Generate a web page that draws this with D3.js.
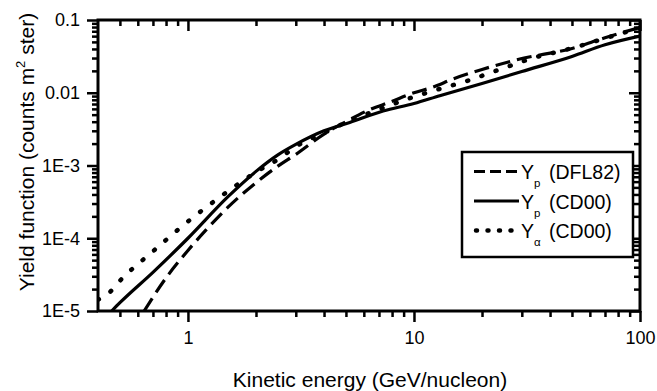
<!DOCTYPE html>
<html><head><meta charset="utf-8">
<script src="https://cdn.jsdelivr.net/npm/d3@7"></script>
<style>body{margin:0;background:#fff}svg{display:block}</style>
</head><body>
<svg id="c" width="657" height="391"></svg>
<script>
// ---- data ----
const energyDFL82 = [0.64, 0.8, 1, 1.2, 1.5, 2, 2.5, 3, 4, 5, 6.4, 7.8, 10, 12, 15, 20, 30, 50, 70, 100];
const yieldDFL82  = [1e-5, 2.85e-5, 6.8e-5, 1.29e-4, 2.65e-4, 5.8e-4, 9.8e-4, 1.42e-3, 2.7e-3, 4.0e-3, 5.9e-3, 7.4e-3, 0.0100, 0.0118, 0.0156, 0.0209, 0.0295, 0.0406, 0.057, 0.079];

const energyPCD00 = [0.46, 0.5, 0.7, 1, 1.5, 2, 2.5, 3, 4, 5.2, 7.3, 10, 13, 20, 30, 50, 70, 100];
const yieldPCD00  = [1e-5, 1.3e-5, 3.4e-5, 1.0e-4, 3.7e-4, 8.3e-4, 1.4e-3, 1.95e-3, 3.0e-3, 3.9e-3, 5.6e-3, 7.1e-3, 9.1e-3, 0.0134, 0.0196, 0.0315, 0.0456, 0.060];

const energyACD00 = [0.4, 0.45, 0.5, 0.7, 1, 1.5, 2, 2.5, 3, 4, 5, 7, 10, 12, 17, 24, 33, 50, 70, 100];
const yieldACD00  = [1.43e-5, 1.8e-5, 2.6e-5, 6.6e-5, 1.7e-4, 4.4e-4, 8.1e-4, 1.21e-3, 1.82e-3, 2.8e-3, 3.9e-3, 5.9e-3, 8.8e-3, 0.0105, 0.0144, 0.0209, 0.0295, 0.041, 0.056, 0.078];

const xMajorTicks = [1, 10, 100];
const xTickLabels = ["1", "10", "100"];
const xMinorTicks = [0.5,0.6,0.7,0.8,0.9, 2,3,4,5,6,7,8,9, 20,30,40,50,60,70,80,90];
const yMajorTicks = [0.1, 0.01, 1e-3, 1e-4, 1e-5];
const yTickLabels = ["0.1", "0.01", "1E-3", "1E-4", "1E-5"];
const yMinorTicks = [];
[1e-5, 1e-4, 1e-3, 1e-2].forEach(d => { for (let k = 2; k <= 9; k++) yMinorTicks.push(+(d * k).toPrecision(3)); });

const seriesNames = ["DFL82", "CD00", "CD00"];
const seriesSubs = ["p", "p", "\u03b1"];

// ---- layout ----
const L = 98, R = 640, T = 20, B = 311;
const FONT = "'Liberation Sans', Arial, Helvetica, sans-serif";
const svg = d3.select("#c");
const x = d3.scaleLog().domain([0.4, 100]).range([L, R]);
const y = d3.scaleLog().domain([1e-5, 0.1]).range([B, T]);

svg.append("defs").append("clipPath").attr("id", "clip")
  .append("rect").attr("x", L).attr("y", T).attr("width", R - L).attr("height", B - T);

function styleAxis(g) {
  g.select(".domain").remove();
  g.selectAll("line").attr("stroke", "#000").attr("stroke-width", 2.5);
  g.selectAll("text").attr("font-family", FONT).attr("font-size", 18).attr("fill", "#000");
}

// bottom axis
svg.append("g").attr("transform", `translate(0,${B})`)
  .call(d3.axisBottom(x).tickValues(xMajorTicks).tickFormat((d, i) => xTickLabels[i]).tickSize(11).tickSizeOuter(0).tickPadding(8))
  .call(styleAxis)
  .call(g => g.selectAll("text").attr("y", 33).attr("dy", 0));
svg.append("g").attr("transform", `translate(0,${B})`)
  .call(d3.axisBottom(x).tickValues(xMinorTicks).tickFormat("").tickSize(6).tickSizeOuter(0))
  .call(styleAxis);
// top ticks (pointing down)
svg.append("g").attr("transform", `translate(0,${T})`)
  .call(d3.axisBottom(x).tickValues(xMajorTicks).tickFormat("").tickSize(11).tickSizeOuter(0))
  .call(styleAxis);
svg.append("g").attr("transform", `translate(0,${T})`)
  .call(d3.axisBottom(x).tickValues(xMinorTicks).tickFormat("").tickSize(6).tickSizeOuter(0))
  .call(styleAxis);
// left axis
svg.append("g").attr("transform", `translate(${L},0)`)
  .call(d3.axisLeft(y).tickValues(yMajorTicks).tickFormat((d, i) => yTickLabels[i]).tickSize(11).tickSizeOuter(0).tickPadding(7))
  .call(styleAxis);
svg.append("g").attr("transform", `translate(${L},0)`)
  .call(d3.axisLeft(y).tickValues(yMinorTicks).tickFormat("").tickSize(6).tickSizeOuter(0))
  .call(styleAxis);
// right ticks (pointing left)
svg.append("g").attr("transform", `translate(${R},0)`)
  .call(d3.axisLeft(y).tickValues(yMajorTicks).tickFormat("").tickSize(11).tickSizeOuter(0))
  .call(styleAxis);
svg.append("g").attr("transform", `translate(${R},0)`)
  .call(d3.axisLeft(y).tickValues(yMinorTicks).tickFormat("").tickSize(6).tickSizeOuter(0))
  .call(styleAxis);

// frame
svg.append("rect").attr("x", L).attr("y", T).attr("width", R - L).attr("height", B - T)
  .attr("fill", "none").attr("stroke", "#000").attr("stroke-width", 3);

// curves
const line = d3.line().x(d => x(d[0])).y(d => y(d[1])).curve(d3.curveMonotoneX);
const styles = [
  {dash: "15,7", legendDash: "11,5", cap: "butt", w: 3.2},
  {dash: null, legendDash: null, cap: "butt", w: 3.2},
  {dash: "1,14", legendDash: "1,10.5", cap: "round", w: 4.5}
];
const series = [
  d3.zip(energyDFL82, yieldDFL82),
  d3.zip(energyPCD00, yieldPCD00),
  d3.zip(energyACD00, yieldACD00)
];
const plot = svg.append("g").attr("clip-path", "url(#clip)");
series.forEach((s, i) => {
  plot.append("path").attr("d", line(s)).attr("fill", "none").attr("stroke", "#000")
    .attr("stroke-width", styles[i].w).attr("stroke-linecap", styles[i].cap)
    .attr("stroke-dasharray", styles[i].dash);
});

// legend
const lg = svg.append("g");
lg.append("rect").attr("x", 462).attr("y", 152).attr("width", 171).attr("height", 105)
  .attr("fill", "#fff").attr("stroke", "#000").attr("stroke-width", 2.5);
seriesNames.forEach((nm, i) => {
  const base = 179 + i * 29.5;
  lg.append("line").attr("x1", i === 2 ? 476 : 474).attr("x2", 519).attr("y1", base - 7.5).attr("y2", base - 7.5)
    .attr("stroke", "#000").attr("stroke-width", styles[i].w).attr("stroke-linecap", styles[i].cap)
    .attr("stroke-dasharray", styles[i].legendDash);
  const t = lg.append("text").attr("x", 521).attr("y", base).attr("font-family", FONT).attr("font-size", 19.5).attr("fill", "#000");
  t.append("tspan").text("Y");
  t.append("tspan").attr("font-size", 11.5).attr("dy", 8).text(seriesSubs[i]);
  t.append("tspan").attr("x", 549).attr("dy", -8).text("(" + nm + ")");
});

// axis titles
svg.append("text").attr("x", 370).attr("y", 387).attr("text-anchor", "middle")
  .attr("font-family", FONT).attr("font-size", 21).attr("fill", "#000")
  .text("Kinetic energy (GeV/nucleon)");
const yt = svg.append("text").attr("transform", "translate(34,152) rotate(-90)").attr("text-anchor", "middle")
  .attr("font-family", FONT).attr("font-size", 21).attr("fill", "#000");
yt.append("tspan").text("Yield function (counts m");
yt.append("tspan").attr("font-size", 13).attr("dy", -9).text("2");
yt.append("tspan").attr("dy", 9).text(" ster)");
</script>
</body></html>
